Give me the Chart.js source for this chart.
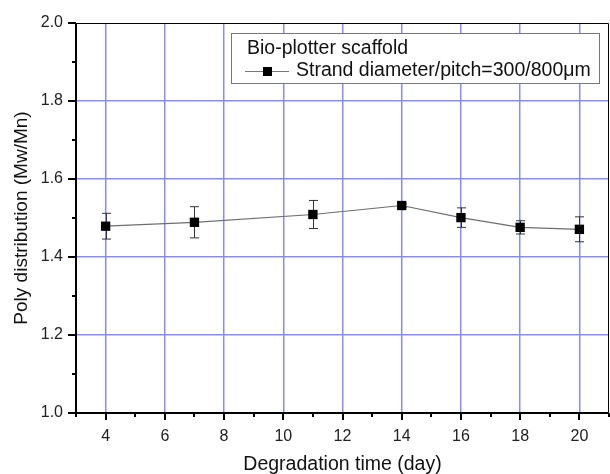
<!DOCTYPE html>
<html>
<head>
<meta charset="utf-8">
<script src="https://cdn.jsdelivr.net/npm/chart.js@4/dist/chart.umd.min.js"></script>
<style>
  html, body { margin: 0; padding: 0; background: #fff; }
  #wrap { width: 610px; height: 474px; position: relative; }
</style>
</head>
<body>
<div id="wrap"><canvas id="chart"></canvas></div>
<script>
// Data
const days = [4, 7, 11, 14, 16, 18, 20];
const polyDist = [1.479, 1.489, 1.509, 1.532, 1.501, 1.476, 1.471];
const polyErr = [0.033, 0.040, 0.036, 0.004, 0.025, 0.017, 0.032];
const legendTitle = "Bio-plotter scaffold";
const seriesName = "Strand diameter/pitch=300/800\u03bcm";

const FONT = "'Liberation Sans', Arial, sans-serif";
const GRID = "#8a8aff";
const NONE = "rgba(0,0,0,0)";

// error bars, minor/major tick marks, frame and legend box
const extras = {
  id: "extras",
  beforeDatasetsDraw(chart) {
    const { ctx, scales: { x, y } } = chart;
    ctx.save();
    ctx.strokeStyle = "#333";
    ctx.lineWidth = 1;
    days.forEach((d, i) => {
      const px = Math.round(x.getPixelForValue(d)) + 0.5;
      const top = y.getPixelForValue(polyDist[i] + polyErr[i]);
      const bot = y.getPixelForValue(polyDist[i] - polyErr[i]);
      ctx.beginPath();
      ctx.moveTo(px, top); ctx.lineTo(px, bot);
      ctx.moveTo(px - 4.5, top); ctx.lineTo(px + 4.5, top);
      ctx.moveTo(px - 4.5, bot); ctx.lineTo(px + 4.5, bot);
      ctx.stroke();
    });
    ctx.restore();
  },
  afterDraw(chart) {
    const { ctx, chartArea: a, scales: { x, y } } = chart;
    ctx.save();
    ctx.strokeStyle = "#000";
    // frame
    ctx.lineWidth = 1;
    ctx.beginPath();
    ctx.moveTo(a.left, a.top + 0.5); ctx.lineTo(a.right - 0.5, a.top + 0.5);
    ctx.lineTo(a.right - 0.5, a.bottom);
    ctx.stroke();
    ctx.lineWidth = 2;
    ctx.beginPath();
    ctx.moveTo(a.left, a.top); ctx.lineTo(a.left, a.bottom); ctx.lineTo(a.right, a.bottom);
    ctx.stroke();
    // tick marks
    ctx.beginPath();
    x.ticks.forEach(t => {
      const px = Math.round(x.getPixelForValue(t.value));
      const len = t.value % 2 === 0 ? 7 : 4;
      ctx.moveTo(px, a.bottom); ctx.lineTo(px, a.bottom + len);
    });
    y.ticks.forEach(t => {
      const py = Math.round(y.getPixelForValue(t.value));
      const major = Math.round(t.value * 10) % 2 === 0;
      ctx.moveTo(a.left, py); ctx.lineTo(a.left - (major ? 8 : 4), py);
    });
    ctx.stroke();

    // legend box
    const bx = 231, by = 33, bw = 368, bh = 50;
    ctx.fillStyle = "#fff";
    ctx.fillRect(bx, by, bw, bh);
    ctx.lineWidth = 1;
    ctx.strokeStyle = "#777";
    ctx.strokeRect(bx + 0.5, by + 0.5, bw, bh);
    ctx.fillStyle = "#111";
    ctx.font = "19.5px " + FONT;
    ctx.textBaseline = "middle";
    ctx.fillText(legendTitle, bx + 16, by + 16);
    ctx.strokeStyle = "#777";
    ctx.beginPath();
    ctx.moveTo(bx + 14, by + 38.5); ctx.lineTo(bx + 58, by + 38.5);
    ctx.stroke();
    ctx.fillStyle = "#000";
    ctx.fillRect(bx + 32, by + 34, 9, 9);
    ctx.fillStyle = "#111";
    ctx.fillText(seriesName, bx + 65, by + 38);
    ctx.restore();
  }
};

new Chart(document.getElementById("chart"), {
  type: "line",
  data: {
    datasets: [{
      label: seriesName,
      data: days.map((d, i) => ({ x: d, y: polyDist[i] })),
      borderColor: "#6e6e6e",
      borderWidth: 1.2,
      pointStyle: "rect",
      pointRadius: 6.6,
      pointBackgroundColor: "#000",
      pointBorderColor: "#000",
      pointBorderWidth: 0,
      tension: 0
    }]
  },
  options: {
    responsive: true,
    maintainAspectRatio: false,
    animation: false,
    layout: { autoPadding: false, padding: { top: 23, right: 1, left: 0, bottom: 0 } },
    plugins: { legend: { display: false }, tooltip: { enabled: false } },
    scales: {
      x: {
        type: "linear",
        min: 3, max: 21,
        afterFit: s => { s.height = 61; s.paddingLeft = 0; s.paddingRight = 0; },
        border: { display: false },
        grid: {
          drawTicks: false,
          color: c => (c.tick && c.tick.value % 2 === 0 && c.tick.value < 21) ? GRID : NONE,
          lineWidth: 1.5
        },
        ticks: {
          stepSize: 1,
          padding: 14,
          color: "#222",
          font: { family: FONT, size: 16 },
          callback: v => v % 2 === 0 ? v : ""
        },
        title: {
          display: true,
          text: "Degradation time (day)",
          color: "#111",
          font: { family: FONT, size: 19.5, lineHeight: 1 },
          padding: { top: 0, bottom: 0 }
        }
      },
      y: {
        min: 1.0, max: 2.0,
        afterFit: s => { s.width = 76; s.paddingTop = 0; s.paddingBottom = 0; },
        border: { display: false },
        grid: {
          drawTicks: false,
          color: c => {
            const v = Math.round(c.tick.value * 10);
            return (v % 2 === 0 && v > 10 && v < 20) ? GRID : NONE;
          },
          lineWidth: 1.5
        },
        ticks: {
          stepSize: 0.1,
          padding: 13,
          color: "#222",
          font: { family: FONT, size: 16 },
          callback: v => Math.round(v * 10) % 2 === 0 ? v.toFixed(1) : ""
        },
        title: {
          display: true,
          text: "Poly distribution (Mw/Mn)",
          color: "#111",
          font: { family: FONT, size: 19 },
          padding: { top: 10, bottom: 0 }
        }
      }
    }
  },
  plugins: [extras]
});
</script>
</body>
</html>
